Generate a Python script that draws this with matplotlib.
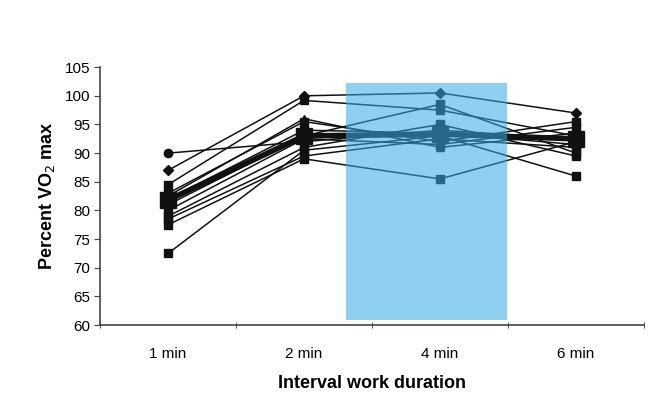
import numpy as np
import matplotlib.pyplot as plt
from matplotlib.patches import Rectangle

plt.rcParams['font.family'] = ['Liberation Sans', 'DejaVu Sans']

durations = ['1 min', '2 min', '4 min', '6 min']

# individual subjects, % VO2max at each interval duration
subjects = [
    [90.0, 92.0, 94.0, 92.5],
    [87.0, 100.0, 100.5, 97.0],
    [84.5, 99.2, 97.5, 93.0],
    [83.0, 95.5, 92.0, 95.5],
    [82.0, 94.0, 93.5, 91.5],
    [81.0, 93.0, 98.5, 90.0],
    [80.0, 92.5, 91.5, 94.5],
    [79.0, 91.0, 95.0, 89.5],
    [78.5, 89.5, 92.5, 91.0],
    [77.5, 89.0, 85.5, 92.0],
    [72.5, 90.5, 93.0, 86.0],
    [82.5, 96.0, 91.0, 93.5],
]
markers = ['o', 'D', 's', 's', 's', 's', 's', 's', 's', 's', 's', '^']
group_mean = [81.8, 93.0, 93.3, 92.5]

x = np.arange(len(durations))

fig = plt.figure(figsize=(6.72, 4.12), dpi=100)
ax = fig.add_axes([0.149, 0.211, 0.809, 0.626])

for vals, m in zip(subjects, markers):
    ms = 5 if m == 'D' else 6
    ax.plot(x, vals, color='#111111', lw=1.1, marker=m, ms=ms, zorder=2)

ax.plot(x, group_mean, color='#111111', lw=4, marker='s', ms=12, zorder=3)

# highlight box over the 4 min interval
ax.add_patch(Rectangle((1.31, 60.9), 1.18, 41.3, facecolor=(55/255, 170/255, 229/255),
                       alpha=0.56, edgecolor='none', zorder=4))

ax.set_xlim(-0.5, 3.5)
ax.set_ylim(60, 105)
ax.set_yticks(np.arange(60, 106, 5))
ax.set_xticks(x)
ax.set_xticklabels(durations)
ax.set_xticks(np.arange(-0.5, 3.6, 1), minor=True)
ax.tick_params(axis='x', which='major', length=0, pad=16, labelsize=11)
ax.tick_params(axis='x', which='minor', length=4, direction='inout', color='#444444')
ax.tick_params(axis='y', length=4, direction='out', color='#444444', labelsize=11, pad=3)

for s in ['top', 'right']:
    ax.spines[s].set_visible(False)
for s in ['left', 'bottom']:
    ax.spines[s].set_color('#444444')
    ax.spines[s].set_linewidth(1.2)

ax.set_ylabel('Percent VO$_2$ max', fontsize=13, fontweight='bold', labelpad=6)
ax.set_xlabel('Interval work duration', fontsize=13, fontweight='bold', labelpad=10)

fig.savefig('out.png', dpi=100)
